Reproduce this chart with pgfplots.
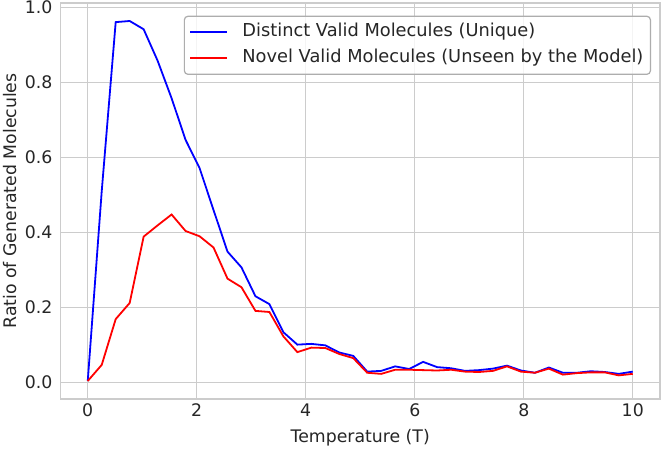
\documentclass[border=0pt]{standalone}
\usepackage{pgfplots}
\pgfplotsset{compat=1.18}
\usepackage{pgfplotstable}
\usepackage{fontspec}
\setmainfont{DejaVu Sans}

\definecolor{txt}{HTML}{262626}
\definecolor{gridc}{HTML}{CCCCCC}
\definecolor{legframe}{HTML}{CCCCCC}

% Ratio of generated molecules versus sampling temperature (40 temperatures on [0,10])
\pgfplotstableread{
T        distinct  novel
0.00000  0.004     0.004
0.25641  0.510     0.047
0.51282  0.961     0.169
0.76923  0.964     0.212
1.02564  0.942     0.389
1.28205  0.858     0.419
1.53846  0.758     0.448
1.79487  0.647     0.404
2.05128  0.572     0.390
2.30769  0.460     0.360
2.56410  0.349     0.277
2.82051  0.307     0.254
3.07692  0.230     0.191
3.33333  0.209     0.188
3.58974  0.134     0.123
3.84615  0.101     0.081
4.10256  0.103     0.093
4.35897  0.099     0.092
4.61538  0.080     0.076
4.87179  0.071     0.065
5.12821  0.029     0.026
5.38462  0.031     0.023
5.64103  0.043     0.034
5.89744  0.036     0.034
6.15385  0.055     0.033
6.41026  0.041     0.032
6.66667  0.038     0.034
6.92308  0.031     0.029
7.17949  0.033     0.028
7.43590  0.037     0.031
7.69231  0.045     0.043
7.94872  0.032     0.029
8.20513  0.026     0.026
8.46154  0.040     0.037
8.71795  0.026     0.021
8.97436  0.026     0.025
9.23077  0.030     0.027
9.48718  0.028     0.027
9.74359  0.023     0.019
10.00000 0.029     0.023
}\ratios

\newcommand{\lblfont}{\fontsize{17.3}{20}\selectfont}
\newcommand{\legfont}{\fontsize{17.8}{20}\selectfont}

\begin{document}
\begin{tikzpicture}
\fill[white] (-60.5pt,-51pt) rectangle (600.5pt,399pt);
\begin{axis}[
  at={(0pt,0pt)}, anchor=south west,
  scale only axis, width=599.5pt, height=396pt,
  xmin=-0.5, xmax=10.5, ymin=-0.044, ymax=1.012,
  xtick={0,2,4,6,8,10},
  ytick={0,0.2,0.4,0.6,0.8,1.0},
  yticklabel style={/pgf/number format/fixed, /pgf/number format/fixed zerofill, /pgf/number format/precision=1},
  /pgf/number format/assume math mode=true,
  major tick length=0pt,
  grid=major,
  grid style={gridc, line width=1.1pt},
  axis line style={gridc, line width=1.2pt},
  tick label style={font=\lblfont, text=txt},
  xticklabel style={anchor=base, yshift=-17.2pt},
  yticklabel style={anchor=east, inner xsep=0pt, xshift=-7.8pt},
  label style={font=\lblfont, text=txt},
  xlabel={Temperature (T)},
  ylabel={Ratio of Generated Molecules},
  xlabel style={at={(axis description cs:0.5,-0.1111)}, anchor=base},
  ylabel style={at={(axis description cs:-0.0731,0.5)}, anchor=base},
  legend cell align=left,
  legend style={at={(rel axis cs:1,1)}, anchor=north east,
    xshift=-9pt, yshift=-12.7pt,
    draw=legframe!85!black, line width=1.2pt, rounded corners=3.5pt,
    fill=white, fill opacity=0.8, draw opacity=1, text opacity=1,
    inner xsep=3pt, inner ysep=3pt,
    font=\legfont, text=txt,
    nodes={inner xsep=4pt, inner ysep=0pt, text height=12.5pt, text depth=4pt}},
  legend image code/.code={%
    \draw[#1] (0pt,0pt) -- (37pt,0pt);
    \path[draw=none, fill=none] (-3pt,-13pt) rectangle (48pt,13pt);},
]
\addplot[blue, line width=1.8pt] table[x=T, y=distinct] {\ratios};
\addlegendentry{Distinct Valid Molecules (Unique)}
\addplot[red, line width=1.8pt] table[x=T, y=novel] {\ratios};
\addlegendentry{Novel Valid Molecules (Unseen by the Model)}
\end{axis}
\pgfresetboundingbox
\path[use as bounding box] (-60.5pt,-51pt) rectangle (600.5pt,399pt);
\end{tikzpicture}
\end{document}
